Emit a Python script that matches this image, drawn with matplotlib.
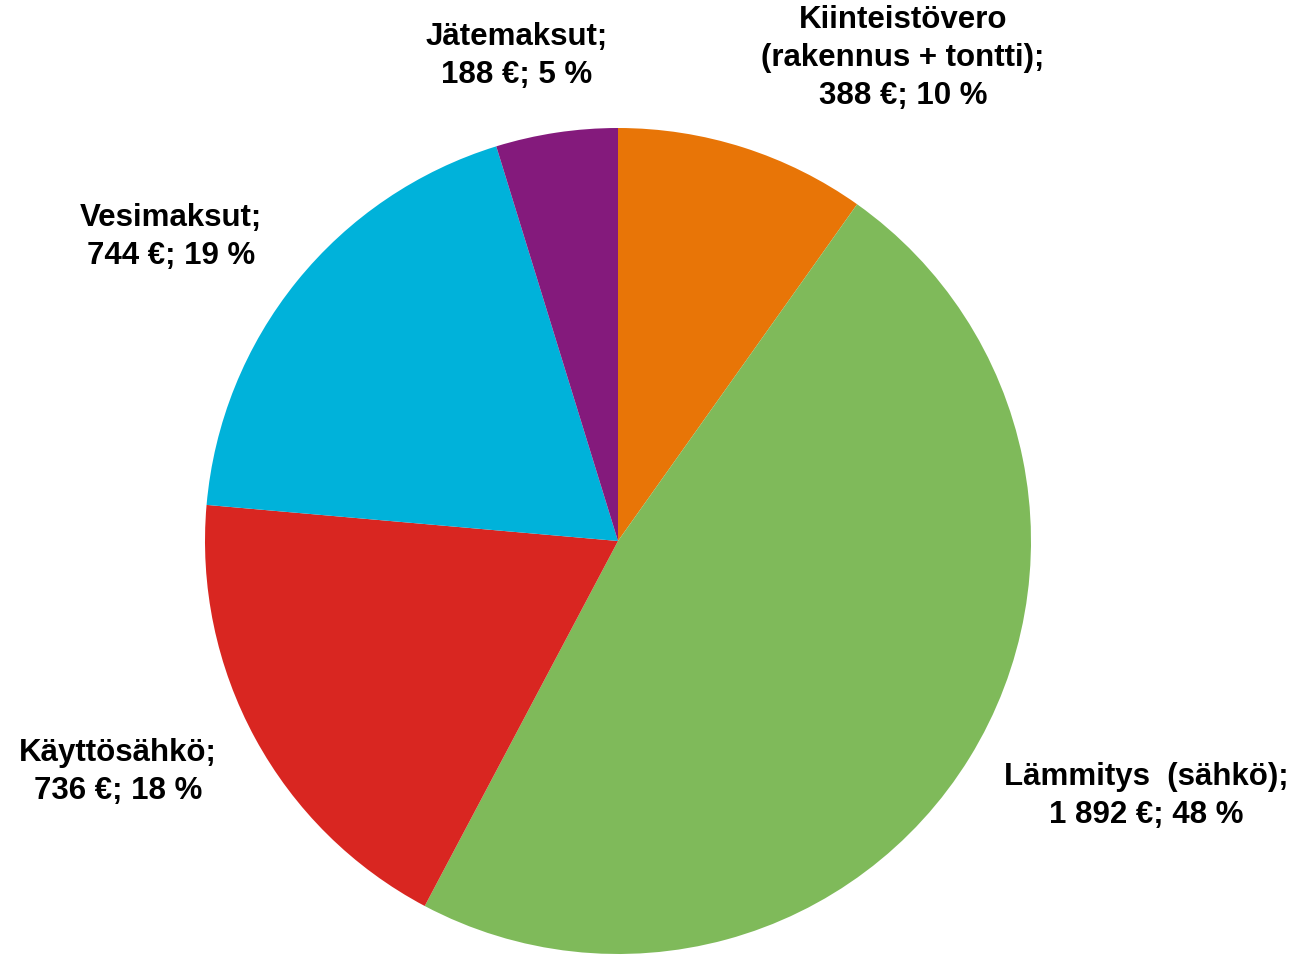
import matplotlib.pyplot as plt

# --- data ---
categories = ['Kiinteistövero\n(rakennus + tontti)', 'Lämmitys  (sähkö)',
              'Käyttösähkö', 'Vesimaksut', 'Jätemaksut']
costs = [388, 1892, 736, 744, 188]
shares = [10, 48, 18, 19, 5]
colors = ['#E87507', '#7FBA5A', '#D92621', '#00B2DA', '#841A7C']

# label anchor points (pie units, radius = 1)
label_pos = [(0.69, 1.17), (1.278, -0.617), (-1.21, -0.559),
             (-1.082, 0.736), (-0.245, 1.175)]

plt.rcParams['font.family'] = ['Liberation Sans', 'DejaVu Sans']

W, H = 1299, 956
cx, cy, r = 618, 541, 413

fig = plt.figure(figsize=(W / 100, H / 100), dpi=100)
ax = fig.add_axes([0, 0, 1, 1])

ax.pie(costs, colors=colors, startangle=90, counterclock=False,
       radius=1, wedgeprops=dict(linewidth=0))

ax.set_xlim(-cx / r, (W - cx) / r)
ax.set_ylim(-(H - cy) / r, cy / r)
ax.set_aspect('equal')
ax.axis('off')


def fmt_eur(v):
    return f"{v:,}".replace(',', ' ')


for name, v, s, (x, y) in zip(categories, costs, shares, label_pos):
    ax.text(x, y, f"{name};\n{fmt_eur(v)} €; {s} %", ha='center', va='center',
            fontsize=22.5, fontweight='bold', color='black', linespacing=1.35)

fig.savefig('out.png', dpi=100, facecolor='white')
